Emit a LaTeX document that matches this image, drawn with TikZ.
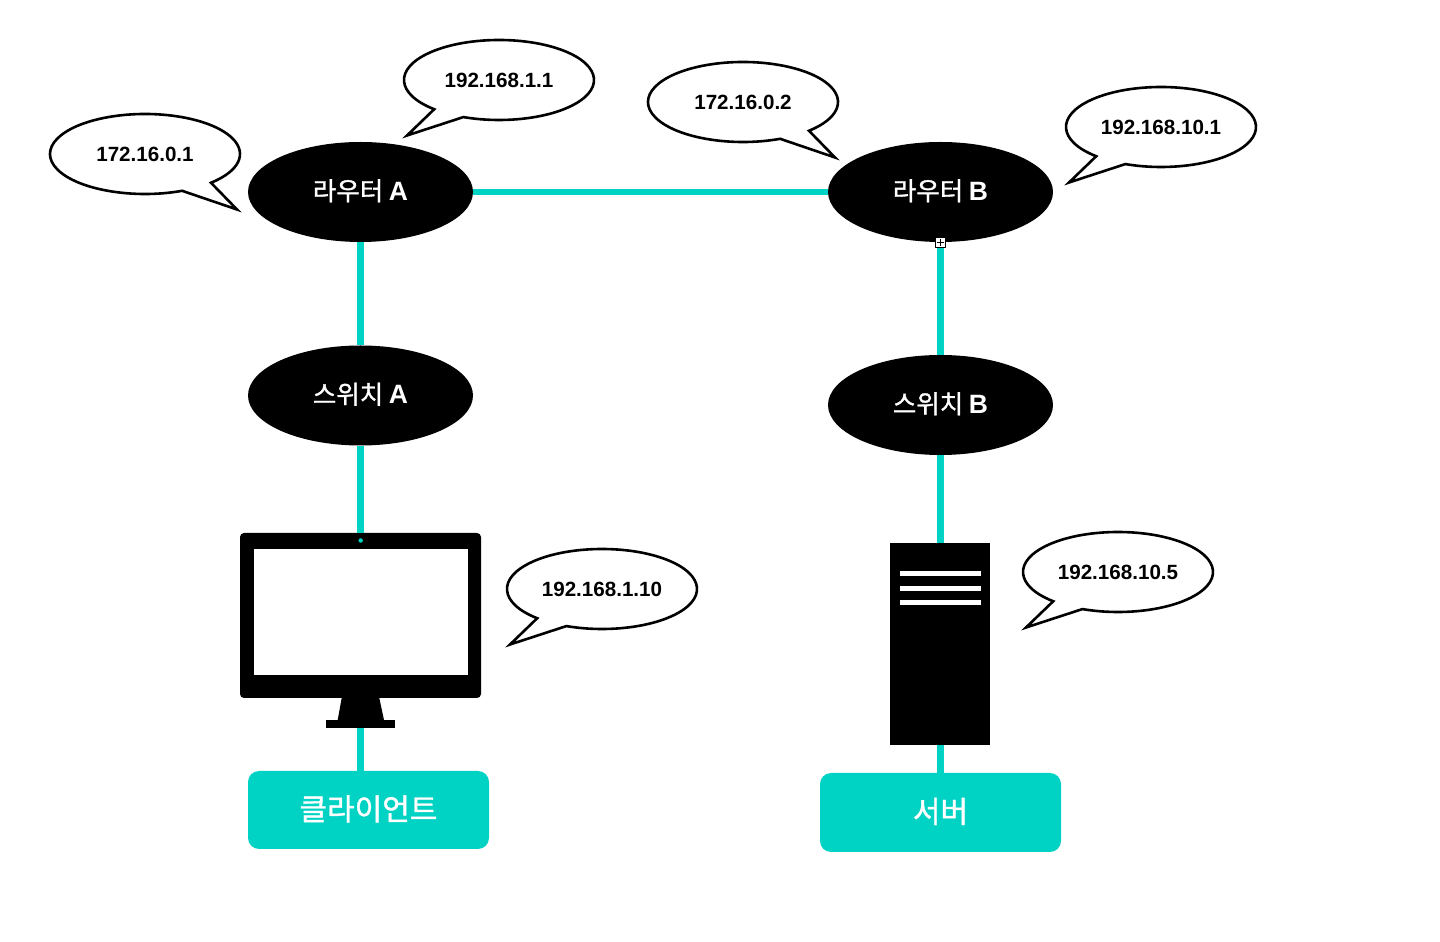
\documentclass[tikz,border=0pt]{standalone}
\usepackage{fontspec}
\usepackage{tikz}
\usetikzlibrary{shapes.geometric}
\setmainfont{Liberation Sans}
\newfontfamily\ipfont{Liberation Sans Bold}
\newfontfamily\krfont[FakeBold=1.2]{Noto Sans CJK KR}
\definecolor{linkteal}{HTML}{00D3C4}
\tikzset{
  device/.style={ellipse,fill=black,text=white,minimum width=225bp,minimum height=100bp,inner sep=0pt,text depth=4.5bp,font=\krfont\fontsize{25.5bp}{30bp}\selectfont},
  bubble/.style={ellipse,minimum width=190bp,minimum height=80bp,inner sep=0pt,font=\ipfont\fontsize{20.6bp}{24bp}\selectfont},
  tail/.style={draw=black,fill=white,line width=2.6bp,line join=miter},
  link/.style={draw=linkteal,line width=6.5bp},
  hostbox/.style={rectangle,rounded corners=11bp,fill=linkteal,text=white,minimum width=241bp,inner sep=0pt,text depth=4.5bp,font=\krfont\fontsize{30bp}{34bp}\selectfont},
  solid block/.style={rectangle,fill=black,inner sep=0pt},
  vent/.style={rectangle,fill=white,minimum width=81bp,minimum height=5bp,inner sep=0pt},
}
\newcommand{\latinlabel}[1]{{\fontspec{Liberation Sans Bold}\fontsize{26.5bp}{30bp}\selectfont#1}}
% outline of a speech bubble round a node, tail to the lower left or lower right
\newcommand{\outlineleft}[1]{\draw [tail,shift={(#1.center)}] (-112:95bp and 40bp) -- (-92bp,-55.5bp) -- (-133:95bp and 40bp) arc [start angle=-133,end angle=-472,x radius=95bp,y radius=40bp] -- cycle;}
\newcommand{\outlineright}[1]{\draw [tail,shift={(#1.center)}] (-46:95bp and 40bp) -- (92bp,-55.5bp) -- (-67:95bp and 40bp) arc [start angle=-67,end angle=-406,x radius=95bp,y radius=40bp] -- cycle;}
\begin{document}
\begin{tikzpicture}[line join=bevel]
\useasboundingbox (0bp,0bp) rectangle (1440bp,942bp);
%%
\node (router_a) at (360.5bp,750bp) [device] {라우터 \latinlabel{A}};
  \node (router_b) at (940.5bp,750bp) [device] {라우터 \latinlabel{B}};
  \node (switch_a) at (360.5bp,546.5bp) [device] {스위치 \latinlabel{A}};
  \node (switch_b) at (940.5bp,537bp) [device] {스위치 \latinlabel{B}};
%%
  \node (monitor) at (360.5bp,326.5bp) [solid block,rounded corners=4bp,minimum width=241bp,minimum height=165bp] {};
  \node (screen) at (361bp,330bp) [rectangle,fill=white,minimum width=214bp,minimum height=126bp,inner sep=0pt] {};
  \node (camera) at (360.7bp,401.5bp) [circle,fill=linkteal,minimum size=4.5bp,inner sep=0pt] {};
  \node (monitor_base) at (360.5bp,218bp) [solid block,minimum width=69bp,minimum height=8bp] {};
  \fill (341.7bp,244bp) -- (379.3bp,244bp) -- (384bp,222bp) -- (337.7bp,222bp) -- cycle;
%%
  \node (server) at (940bp,298bp) [solid block,minimum width=100bp,minimum height=202bp] {};
  \node (vent_1) at (940.5bp,368.5bp) [vent] {};
  \node (vent_2) at (940.5bp,353.5bp) [vent] {};
  \node (vent_3) at (940.5bp,339.5bp) [vent] {};
%%
  \node (client_box) at (368.5bp,132bp) [hostbox,minimum height=78bp] {클라이언트};
  \node (server_box) at (940.5bp,129.5bp) [hostbox,minimum height=79bp] {서버};
%%
  \draw [link] (router_a) -- (router_b);
  \draw [link] (router_a) -- (switch_a);
  \draw [link] (switch_a) -- (monitor.north);
  \draw [link] (monitor_base.south) -- (monitor_base.south |- client_box.north);
  \draw [link] (router_b) -- (switch_b);
  \draw [link] (switch_b) -- (switch_b |- server.north);
  \draw [link] (switch_b |- server.south) -- (server_box.north);
%%
  \node (port_b) at (940.3bp,699.5bp) [rectangle,draw=black,fill=white,line width=1bp,minimum size=9.5bp,inner sep=0pt] {};
  \draw [line width=1bp] (936.8bp,699.5bp) -- (943.8bp,699.5bp);
  \draw [line width=1bp] (940.3bp,696bp) -- (940.3bp,703bp);
%%
\path (145bp,788bp) coordinate (ip_router_a_wan) (499bp,862bp) coordinate (ip_router_a_lan)
    (743bp,840bp) coordinate (ip_router_b_wan) (1161bp,815bp) coordinate (ip_router_b_lan)
    (602bp,353bp) coordinate (ip_client) (1118bp,370bp) coordinate (ip_server);
  \outlineright{ip_router_a_wan}
  \outlineleft{ip_router_a_lan}
  \outlineright{ip_router_b_wan}
  \outlineleft{ip_router_b_lan}
  \outlineleft{ip_client}
  \outlineleft{ip_server}
  \node (text_router_a_wan) at (ip_router_a_wan) [bubble] {172.16.0.1};
  \node (text_router_a_lan) at (ip_router_a_lan) [bubble] {192.168.1.1};
  \node (text_router_b_wan) at (ip_router_b_wan) [bubble] {172.16.0.2};
  \node (text_router_b_lan) at (ip_router_b_lan) [bubble] {192.168.10.1};
  \node (text_client) at (ip_client) [bubble] {192.168.1.10};
  \node (text_server) at (ip_server) [bubble] {192.168.10.5};
%
\end{tikzpicture}
\end{document}
